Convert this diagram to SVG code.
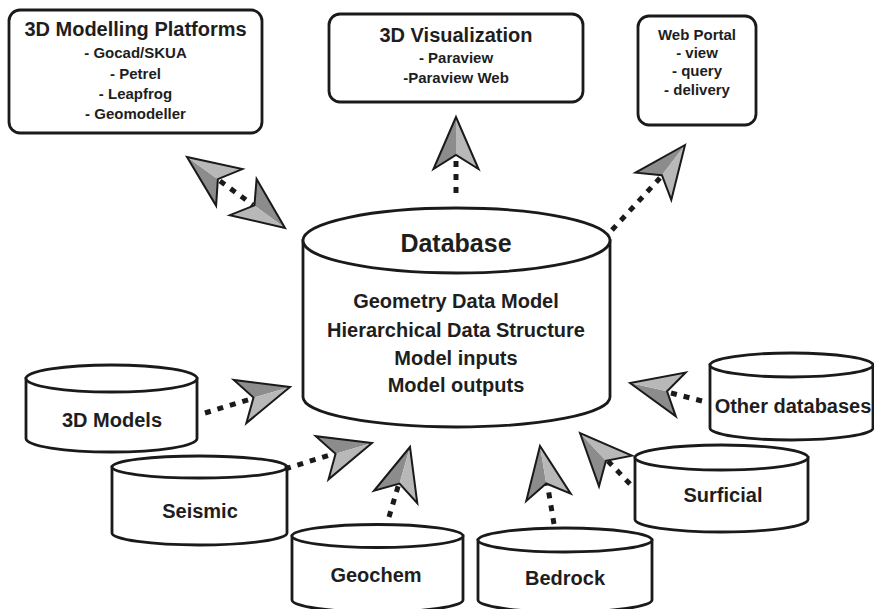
<svg xmlns="http://www.w3.org/2000/svg" xmlns:xlink="http://www.w3.org/1999/xlink" width="874" height="609" viewBox="0 0 874 609">
<style>
.box{fill:#fff;stroke:#1a1a1a;stroke-width:2.8}
.cyl{fill:#fff;stroke:#1a1a1a;stroke-width:2.8}
text{font-family:"Liberation Sans",Arial,sans-serif;font-weight:bold;fill:#1e1e1e;text-anchor:middle}
.t20{font-size:20px}
.t15{font-size:15px}
.dots{fill:none;stroke:#1a1a1a;stroke-width:5;stroke-dasharray:6 7}
.dk{fill:#8c8c8c}
.lt{fill:#b8b8b8}
.ol{fill:none;stroke:#1a1a1a;stroke-width:2;stroke-linejoin:miter}
</style>
<defs>
<g id="dart">
<polygon class="dk" points="0,0 -52,-22.5 -38,0"/>
<polygon class="lt" points="0,0 -38,0 -52,22.5"/>
<polygon class="ol" points="0,0 -52,-22.5 -38,0 -52,22.5"/>
</g>
</defs>
<rect width="874" height="609" fill="#fff"/>

<g id="modelling-platforms">
<rect class="box" x="9" y="10" width="253" height="123" rx="11"/>
<text class="t20" x="135.5" y="36">3D Modelling Platforms</text>
<text class="t15" x="135.5" y="58">- Gocad/SKUA</text>
<text class="t15" x="135.5" y="79">- Petrel</text>
<text class="t15" x="135.5" y="99">- Leapfrog</text>
<text class="t15" x="135.5" y="119">- Geomodeller</text>
</g>

<g id="visualization">
<rect class="box" x="329" y="14" width="254" height="88" rx="11"/>
<text class="t20" x="456" y="42">3D Visualization</text>
<text class="t15" x="456" y="63">- Paraview</text>
<text class="t15" x="456" y="83">-Paraview Web</text>
</g>

<g id="web-portal">
<rect class="box" x="638" y="16" width="118" height="109" rx="11"/>
<text class="t15" x="697" y="40">Web Portal</text>
<text class="t15" x="697" y="58">- view</text>
<text class="t15" x="697" y="76">- query</text>
<text class="t15" x="697" y="95">- delivery</text>
</g>

<g id="database">
<path class="cyl" d="M303,240.5 L303,397 A153.5,30 0 0 0 610,397 L610,240.5 Z"/>
<ellipse class="cyl" cx="456.5" cy="240.5" rx="153.5" ry="32.5"/>
<text x="456" y="252" font-size="25">Database</text>
<text class="t20" x="456" y="308">Geometry Data Model</text>
<text class="t20" x="456" y="337">Hierarchical Data Structure</text>
<text class="t20" x="456" y="365">Model inputs</text>
<text class="t20" x="456" y="392">Model outputs</text>
</g>

<g id="models3d">
<path class="cyl" d="M26,378.5 L26,438.5 A85.5,13.5 0 0 0 197,438.5 L197,378.5 Z"/>
<ellipse class="cyl" cx="111.5" cy="378.5" rx="85.5" ry="13.5"/>
<text class="t20" x="112" y="427">3D Models</text>
</g>

<g id="seismic">
<path class="cyl" d="M112,467 L112,533 A87.5,12 0 0 0 287,533 L287,467 Z"/>
<ellipse class="cyl" cx="199.5" cy="467" rx="87.5" ry="11"/>
<text class="t20" x="200" y="518">Seismic</text>
</g>

<g id="geochem">
<path class="cyl" d="M292,536 L292,600 A85.5,12 0 0 0 463,600 L463,536 Z"/>
<ellipse class="cyl" cx="377.5" cy="536" rx="85.5" ry="11.5"/>
<text class="t20" x="376" y="582">Geochem</text>
</g>

<g id="bedrock">
<path class="cyl" d="M478,540 L478,600 A87,12 0 0 0 652,600 L652,540 Z"/>
<ellipse class="cyl" cx="565" cy="540" rx="87" ry="12"/>
<text class="t20" x="565" y="585">Bedrock</text>
</g>

<g id="surficial">
<path class="cyl" d="M635,457.5 L635,519.5 A86.5,12.5 0 0 0 808,519.5 L808,457.5 Z"/>
<ellipse class="cyl" cx="721.5" cy="457.5" rx="86.5" ry="12.5"/>
<text class="t20" x="723" y="502">Surficial</text>
</g>

<g id="other-databases">
<path class="cyl" d="M710,365 L710,428 A81.5,12 0 0 0 873,428 L873,365 Z"/>
<ellipse class="cyl" cx="791.5" cy="365" rx="81.5" ry="12"/>
<text class="t20" x="793" y="413">Other databases</text>
</g>

<g id="connectors">
<line class="dots" x1="456" y1="193" x2="456" y2="158"/>
<use xlink:href="#dart" href="#dart" transform="translate(456,117) rotate(-90)"/>
<line class="dots" x1="612" y1="230" x2="660" y2="178"/>
<use xlink:href="#dart" href="#dart" transform="translate(685,145) rotate(-52.6)"/>
<line class="dots" x1="220" y1="181" x2="253" y2="205"/>
<use xlink:href="#dart" href="#dart" transform="translate(187,157) rotate(-144.3)"/>
<use xlink:href="#dart" href="#dart" transform="translate(285,228) rotate(36.5)"/>
<line class="dots" x1="205" y1="413" x2="254" y2="398"/>
<use xlink:href="#dart" href="#dart" transform="translate(290,387) rotate(-16.2)"/>
<line class="dots" x1="285" y1="469" x2="336" y2="453"/>
<use xlink:href="#dart" href="#dart" transform="translate(372,443) rotate(-16.5)"/>
<line class="dots" x1="389" y1="517" x2="400" y2="480"/>
<use xlink:href="#dart" href="#dart" transform="translate(410,447) rotate(-74)"/>
<line class="dots" x1="554" y1="524" x2="547" y2="482"/>
<use xlink:href="#dart" href="#dart" transform="translate(540,446) rotate(-99.4)"/>
<line class="dots" x1="630" y1="484" x2="606" y2="459"/>
<use xlink:href="#dart" href="#dart" transform="translate(580,433) rotate(-133)"/>
<line class="dots" x1="702" y1="401" x2="667" y2="392"/>
<use xlink:href="#dart" href="#dart" transform="translate(630,383) rotate(-167.3)"/>
</g>
</svg>
